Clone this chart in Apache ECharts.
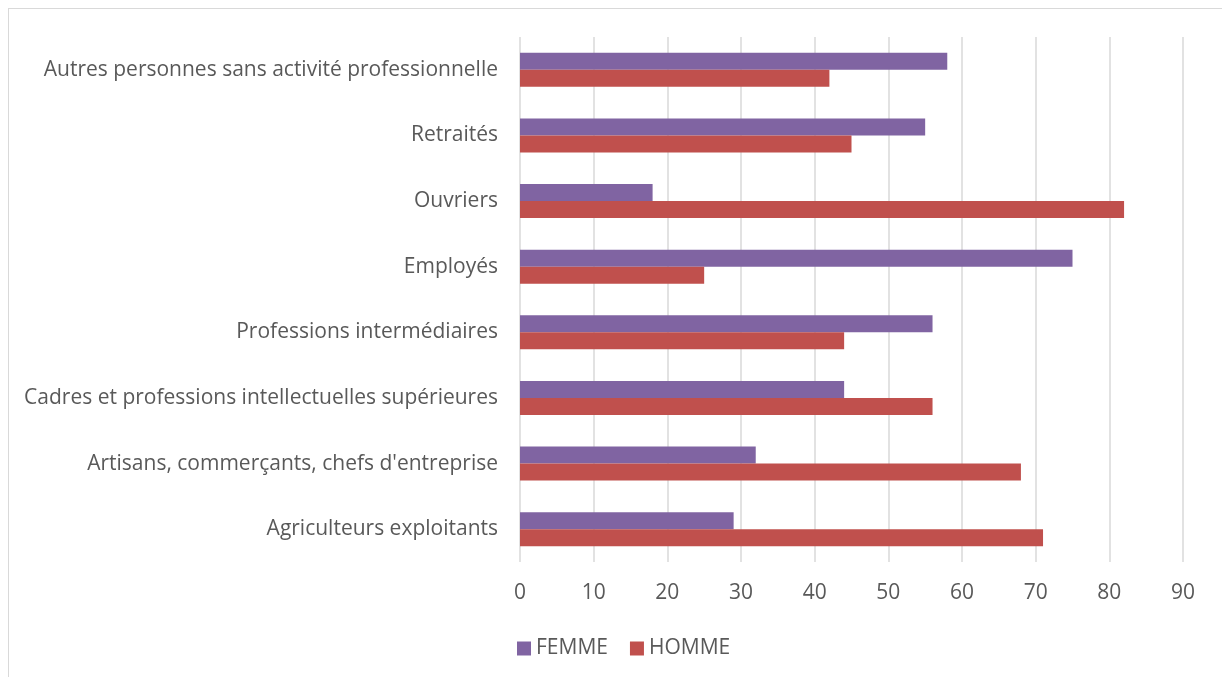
<!DOCTYPE html>
<html>
<head>
<meta charset="utf-8">
<script src="https://cdn.jsdelivr.net/npm/echarts@6/dist/echarts.min.js"></script>
<style>
  html, body { margin: 0; padding: 0; background: #fff; }
  #frame {
    position: absolute; left: 8px; top: 8px; width: 1230px; height: 690px;
    border: 1px solid #d9d9d9; box-sizing: border-box;
  }
  #main { position: absolute; left: 0; top: 0; width: 1222px; height: 677px; }
</style>
</head>
<body>
<div id="frame"></div>
<div id="main"></div>
<script>
// categories, bottom to top
const categories = [
  'Agriculteurs exploitants',
  "Artisans, commerçants, chefs d'entreprise",
  'Cadres et professions intellectuelles supérieures',
  'Professions intermédiaires',
  'Employés',
  'Ouvriers',
  'Retraités',
  'Autres personnes sans activité professionnelle'
]
const femme = [29, 32, 44, 56, 75, 18, 55, 58]
const homme = [71, 68, 56, 44, 25, 82, 45, 42]

const textColor = '#595959'
const font = '"Open Sans", sans-serif'

const myChart = echarts.init(document.getElementById('main'))
myChart.setOption({
  animation: false,
  grid: { left: 520, right: 39, top: 37, bottom: 115 },
  legend: {
    data: ['FEMME', 'HOMME'],
    top: 633,
    left: 512,
    itemWidth: 14,
    itemHeight: 14,
    itemGap: 22,
    icon: 'rect',
    textStyle: { color: textColor, fontSize: 21, fontFamily: font }
  },
  xAxis: {
    type: 'value',
    min: 0,
    max: 90,
    interval: 10,
    axisLine: { show: false },
    axisTick: { show: false },
    axisLabel: { color: textColor, fontSize: 21, fontFamily: font, margin: 21 },
    splitLine: { lineStyle: { color: '#d9d9d9', width: 1.5 } }
  },
  yAxis: {
    type: 'category',
    data: categories,
    axisLine: { show: false },
    axisTick: { show: false },
    axisLabel: { color: textColor, fontSize: 21, fontFamily: font, margin: 22 }
  },
  series: [
    {
      name: 'FEMME',
      type: 'bar',
      data: femme,
      barWidth: 17,
      barGap: '0%',
      itemStyle: { color: '#8064a2' }
    },
    {
      name: 'HOMME',
      type: 'bar',
      data: homme,
      barWidth: 17,
      barGap: '0%',
      itemStyle: { color: '#c0504d' }
    }
  ]
})
</script>
</body>
</html>
